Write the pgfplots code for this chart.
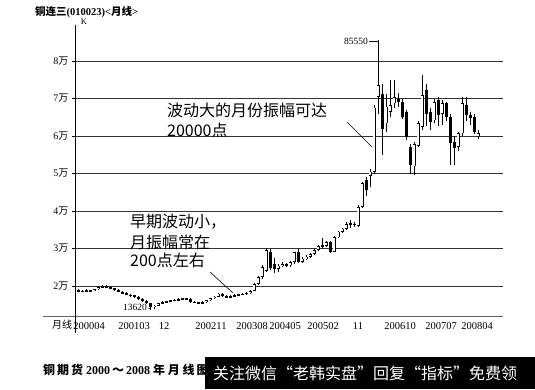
\documentclass[border=0pt]{standalone}
\usepackage{fontspec}
\setmainfont{Liberation Serif}
\newfontfamily\cjk{Noto Sans CJK SC}
\usepackage{pgfplots}
\usepackage{pgfplotstable}
\pgfplotsset{compat=1.18}
\pgfplotstableread{
i o h l c
0 18900 19100 18500 18700
1 18700 19000 18400 18600
2 18600 19100 18500 18900
3 18900 19000 18500 18700
4 18700 19300 18600 19100
5 19100 19900 19000 19700
6 19700 20300 19500 20000
7 20000 20200 19500 19700
8 19700 19900 19200 19400
9 19400 19600 18800 19000
10 19000 19200 18300 18400
11 18400 18700 17900 18100
12 18100 18400 17500 17700
13 17700 18000 17200 17500
14 17500 17700 16800 17000
15 17000 17300 16300 16500
16 16500 16700 15800 16000
17 16000 16200 15200 15400
18 15400 15600 13620 14300
19 14300 15000 14000 14800
20 14800 15600 14600 15400
21 15400 15900 15200 15700
22 15700 16100 15500 15900
23 15900 16300 15700 16200
24 16200 16500 15900 16300
25 16300 16700 16100 16500
26 16500 16900 16300 16700
27 16700 16900 16400 16600
28 16600 16800 15500 15700
29 15700 16000 15400 15600
30 15600 15800 15300 15500
31 15500 15900 15300 15700
32 15700 16400 15600 16300
33 16300 16900 16100 16800
34 16800 17400 16600 17200
35 17200 18200 17000 18000
36 18000 18100 17100 17300
37 17300 17500 16800 17100
38 17100 17500 16900 17300
39 17300 17800 17200 17600
40 17600 17900 17400 17700
41 17700 18100 17500 17900
42 17900 18400 17700 18200
43 18200 18900 18000 18700
44 18800 20800 18600 20500
45 20500 22800 20200 22400
46 22400 25500 22000 25100
47 24000 30200 23800 29600
48 29000 30000 24300 24800
49 26000 27500 23600 24600
50 24600 26000 23800 25400
51 25400 26300 25000 25800
52 25800 26200 25000 25500
53 25500 26800 25200 26400
54 26500 29200 26000 29000
55 29000 30000 26100 26500
56 26500 27800 26200 27300
57 27300 28200 27000 27800
58 27800 28900 27500 28500
59 28500 30000 28200 29600
60 29600 31000 29300 30600
61 30600 32700 30000 30800
62 30800 32000 30500 31700
63 31700 32000 28800 29000
64 29200 33400 29000 33000
65 33000 34800 32800 34500
66 34500 35600 34200 35300
67 35300 37000 35000 36500
68 36800 37500 35600 36300
69 36300 37200 35800 36600
70 36000 41500 35700 41100
71 41100 47800 40800 47500
72 48300 49100 44000 45700
73 49300 51200 46500 50500
74 50400 68300 50000 67600
75 70400 85550 66000 73600
76 71300 74000 55000 62000
77 63400 71300 61000 67800
78 66500 75000 65000 68200
79 68700 74900 67500 70400
80 70000 71500 67800 69000
81 69100 69800 64500 65100
82 66500 67000 58900 59800
83 57200 58000 50000 52300
84 51900 58500 49700 57900
85 57400 64000 57000 63400
86 62500 76200 61500 70900
87 72200 74000 62800 66000
88 66500 67500 61500 63800
89 64200 70000 63500 69100
90 69600 70300 62600 65600
91 66000 69500 63000 68700
92 68700 69200 64000 65100
93 65100 66000 52300 58100
94 58500 60000 52300 56700
95 57200 61000 56000 60700
96 60700 70500 60000 68700
97 68200 70500 64000 65600
98 65600 66500 63000 64800
99 65100 65800 60500 61200
100 60000 61500 59200 60800
}\kdata
\begin{document}
\begin{tikzpicture}[x=1pt,y=1pt]
\useasboundingbox (0,0) rectangle (535,389);
\begin{axis}[
  at={(75pt,73pt)}, anchor=south west, scale only axis,
  width=428pt, height=291pt,
  xmin=-0.75, xmax=106.25, ymin=12000, ymax=89600,
  axis lines=left, axis line style={-},
  x axis line style={draw=black!60, line width=1pt},
  y axis line style={draw=black, line width=0.8pt},
  ytick={20000,30000,40000,50000,60000,70000,80000},
  yticklabels={2{\cjk 万},3{\cjk 万},4{\cjk 万},5{\cjk 万},6{\cjk 万},7{\cjk 万},8{\cjk 万}},
  ymajorgrids, grid style={black!80, line width=0.6pt},
  ytick style={black, line width=0.6pt}, tick align=outside, major tick length=3pt,
  xtick={2.75,14,21.5,33.25,43.5,51.75,61.25,70,80.5,90.75,99.75},
  xticklabels={200004,200103,12,200211,200308,200405,200502,11,200610,200707,200804},
  xtick style={draw=none},
  yticklabel style={font=\fontsize{10}{11}\selectfont},
  xticklabel style={font=\fontsize{10.5}{11}\selectfont},
  scaled y ticks=false,
]
% wicks
\addplot[draw=none, mark=none, forget plot,
  error bars/.cd, y dir=both, y explicit, error mark=none,
  error bar style={draw=black, line width=0.7pt}]
  table[x=i, y expr={(\thisrow{h}+\thisrow{l})/2}, y error expr={(\thisrow{h}-\thisrow{l})/2}] {\kdata};
% bodies (black)
\addplot[draw=none, mark=none, forget plot,
  error bars/.cd, y dir=both, y explicit, error mark=none,
  error bar style={draw=black, line width=3pt}]
  table[x=i, y expr={(\thisrow{o}+\thisrow{c})/2}, y error expr={max(abs(\thisrow{c}-\thisrow{o})/2,110)}] {\kdata};
% hollow (rising) bodies
\addplot[draw=none, mark=none, forget plot,
  error bars/.cd, y dir=both, y explicit, error mark=none,
  error bar style={draw=white, line width=1.6pt}]
  table[x=i, y expr={(\thisrow{o}+\thisrow{c})/2}, y error expr={max((\thisrow{c}-\thisrow{o})/2-180,0)}] {\kdata};
\end{axis}
% axis extensions
\draw[black, line width=0.8pt] (75,73) -- (75,56);
\draw[black!60, line width=1pt] (43,73) -- (75,73);
\node[font=\cjk\fontsize{10}{11}\selectfont] at (62,64) {月线};
% title
\node[anchor=west, font=\bfseries\fontsize{10.5}{12}\selectfont, inner sep=0pt] at (35,377) {{\cjk\bfseries 铜连三}(010023)<{\cjk\bfseries 月线}>};
\node[font=\fontsize{8.5}{9}\selectfont, inner sep=0pt] at (84,367) {K};
% annotations
\node[anchor=west, inner sep=0pt, font=\cjk\fontsize{16}{18}\selectfont] at (167,279) {波动大的月份振幅可达};
\node[anchor=west, inner sep=0pt, font=\cjk\fontsize{16}{18}\selectfont] at (167,259) {20000点};
\draw[black, line width=0.6pt] (347,267) -- (372,242);
\node[anchor=west, inner sep=0pt, font=\cjk\fontsize{16}{18}\selectfont] at (130,167) {早期波动小，};
\node[anchor=west, inner sep=0pt, font=\cjk\fontsize{16}{18}\selectfont] at (130,147) {月振幅常在};
\node[anchor=west, inner sep=0pt, font=\cjk\fontsize{16}{18}\selectfont] at (130,129) {200点左右};
\draw[black, line width=0.6pt] (210,117) -- (233,96);
% extremes
\node[anchor=east, inner sep=1pt, font=\fontsize{9.5}{10}\selectfont] at (369,348) {85550};
\draw[black, line width=0.6pt] (369,348) -- (378,348);
\node[anchor=east, inner sep=1pt, font=\fontsize{9.5}{10}\selectfont] at (148,82) {13620};
\draw[black, line width=0.6pt] (148,81) -- (151,80);
% caption and banner
\node[anchor=west, inner sep=0pt, font=\bfseries\fontsize{12}{14}\selectfont] at (43,19) {{\cjk\bfseries 铜\,期\,货}\ 2000\,{\cjk ～}\,2008\ {\cjk\bfseries 年\ 月\ 线\,图}};
\fill[black] (205,0) rectangle (535,32);
\node[anchor=west, inner sep=0pt, text=white, font=\cjk\fontsize{16}{18}\selectfont] at (213,16) {关注微信“老韩实盘”回复“指标”免费领};
\end{tikzpicture}
\end{document}
